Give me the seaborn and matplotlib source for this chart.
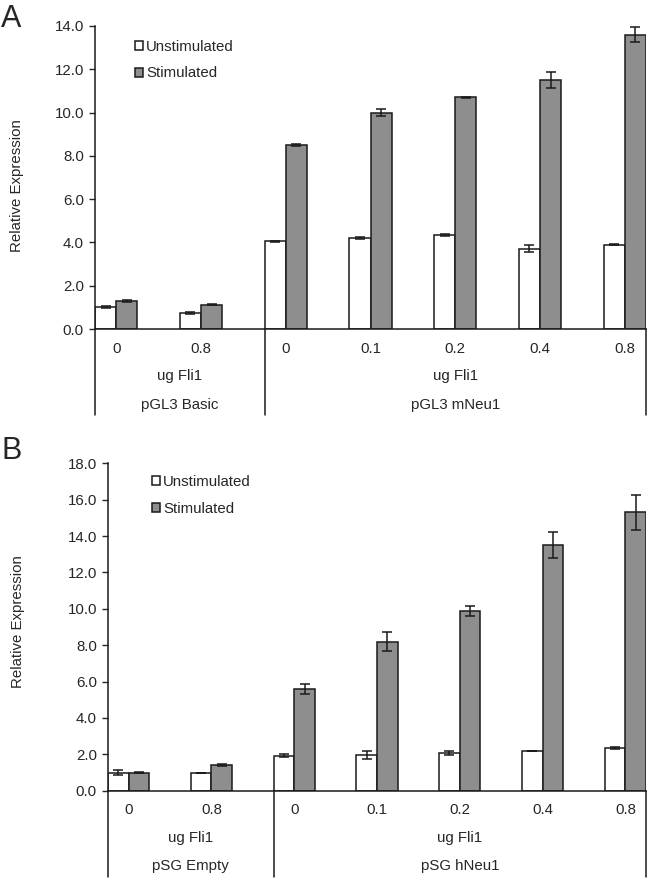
import seaborn as sns
import matplotlib.pyplot as plt
import pandas as pd

# -----------------------------------------------------------
# Data
# -----------------------------------------------------------
doses = ["0", "0.8", "0", "0.1", "0.2", "0.4", "0.8"]
conditions = ["Unstimulated", "Stimulated"]

# panel A: pGL3 constructs
a_groups = ["pGL3 Basic", "pGL3 mNeu1"]
a_unstim = [1.0, 0.73, 4.05, 4.22, 4.33, 3.72, 3.9]
a_unstim_err = [0.05, 0.04, 0.02, 0.04, 0.04, 0.15, 0.02]
a_stim = [1.3, 1.13, 8.5, 10.0, 10.7, 11.5, 13.6]
a_stim_err = [0.04, 0.02, 0.06, 0.15, 0.03, 0.36, 0.35]

# panel B: pSG constructs
b_groups = ["pSG Empty", "pSG hNeu1"]
b_unstim = [1.0, 0.97, 1.93, 1.97, 2.08, 2.18, 2.37]
b_unstim_err = [0.12, 0.02, 0.07, 0.2, 0.1, 0.01, 0.05]
b_stim = [1.0, 1.4, 5.6, 8.2, 9.9, 13.5, 15.3]
b_stim_err = [0.04, 0.06, 0.27, 0.5, 0.27, 0.72, 0.98]

sns.set_style("ticks")
plt.rcParams["font.family"] = ["Liberation Sans", "DejaVu Sans"]
plt.rcParams["font.size"] = 10.8

GRAY = "#8e8e8e"
EDGE = "#1a1a1a"

fig = plt.figure(figsize=(6.53, 8.84), dpi=100)
ax_a = fig.add_axes([0.1455, 0.6278, 0.8438, 0.3428])
ax_b = fig.add_axes([0.1654, 0.1055, 0.8239, 0.3704])


def draw_panel(ax, unstim, unstim_err, stim, stim_err, groups, ymax,
               leg_anchor, ylab_pos, line_depth):
    keys = [f"{groups[0] if i < 2 else groups[1]}|{d}|{i}" for i, d in enumerate(doses)]
    df = pd.DataFrame({
        "key": keys * 2,
        "condition": [conditions[0]] * 7 + [conditions[1]] * 7,
        "value": unstim + stim,
    })
    sns.barplot(data=df, x="key", y="value", hue="condition", order=keys,
                hue_order=conditions, palette=["white", GRAY], width=0.5,
                edgecolor=EDGE, linewidth=1.1, errorbar=None, ax=ax,
                saturation=1)

    for cont, err in zip(ax.containers, [unstim_err, stim_err]):
        xs = [b.get_x() + b.get_width() / 2 for b in cont]
        ys = [b.get_height() for b in cont]
        ax.errorbar(xs, ys, yerr=err, fmt="none", ecolor=EDGE,
                    elinewidth=1.1, capsize=3.6, capthick=1.1, zorder=5)

    ax.set_xlim(-0.25, 6.25)
    ax.set_ylim(0, ymax)
    ax.set_yticks(range(0, ymax + 1, 2))
    ax.set_yticklabels([f"{v:.1f}" for v in range(0, ymax + 1, 2)])
    ax.set_xticks(range(7))
    ax.set_xticklabels(doses)
    ax.tick_params(axis="x", length=0, pad=9)
    ax.tick_params(axis="y", length=4, width=1, direction="out", pad=4)
    ax.set_xlabel("")
    ax.set_ylabel("Relative Expression")
    ax.yaxis.set_label_coords(*ylab_pos)
    sns.despine(ax=ax)
    for s in ["left", "bottom"]:
        ax.spines[s].set_linewidth(1.1)
        ax.spines[s].set_color(EDGE)

    # multi-level category axis
    for xv in [-0.25, 1.75, 6.25]:
        ax.axvline(xv, ymin=-line_depth, ymax=0, color=EDGE, lw=1.1,
                   clip_on=False)
    for xc, name in [(0.75, groups[0]), (4.0, groups[1])]:
        ax.annotate("ug Fli1", xy=(xc, 0), xycoords=("data", "axes fraction"),
                    xytext=(0, -34), textcoords="offset points",
                    ha="center", va="center")
        ax.annotate(name, xy=(xc, 0), xycoords=("data", "axes fraction"),
                    xytext=(0, -54.5), textcoords="offset points",
                    ha="center", va="center")

    ax.legend(loc="upper left", bbox_to_anchor=leg_anchor, frameon=False,
              handlelength=0.55, handleheight=0.55, handletextpad=0.2,
              labelspacing=0.85, borderpad=0, borderaxespad=0)


draw_panel(ax_a, a_unstim, a_unstim_err, a_stim, a_stim_err, a_groups, 14,
           (0.0726, 0.955), (-0.129, 0.475), 0.284)
draw_panel(ax_b, b_unstim, b_unstim_err, b_stim, b_stim_err, b_groups, 18,
           (0.0818, 0.965), (-0.154, 0.517), 0.264)

# panel letters
fig.text(0.002, 1 - 19 / 884, "A", fontsize=22, ha="left", va="center")
fig.text(0.002, 1 - 451 / 884, "B", fontsize=22, ha="left", va="center")

fig.savefig("out.png", dpi=100)
